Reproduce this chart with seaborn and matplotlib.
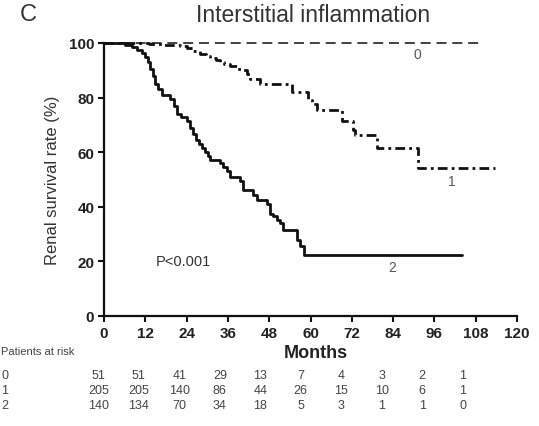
import numpy as np
import pandas as pd
import matplotlib
matplotlib.use("Agg")
import matplotlib.pyplot as plt
import seaborn as sns

# Kaplan-Meier step curves (months, survival %)
months_0 = [0, 109]
surv_0 = [100, 100]

months_1 = [0, 13, 17, 22, 24, 26, 27.9, 29.5, 30.8, 32.5, 33.7, 35, 36.5, 38.7, 40.4,
            41.6, 42.4, 45.3, 54.7, 59.3, 60.5, 61.9, 69.2, 72.4, 73, 79.4, 91.3, 113.7]
surv_1 = [100, 99.6, 99.3, 99, 98.2, 97, 96, 95.2, 94.6, 93.8, 93, 92.3, 91.5, 90.5, 90,
          88.5, 86.7, 85, 82, 79, 77.5, 75.6, 71.6, 68.3, 66.4, 61.6, 54.2, 54.2]

months_2 = [0, 6, 8, 9.5, 11, 12, 12.8, 13.4, 14.1, 14.8, 15.8, 16.9, 19.2, 20.2, 21.2,
            22.5, 24.1, 25, 25.9, 26.8, 27.7, 28.6, 29.4, 30.2, 30.8, 33.7, 34.6, 35.6,
            36.6, 39.5, 40.4, 43.3, 44.5, 47.4, 48.3, 49.2, 50.2, 51.2, 52, 56, 57, 58, 104]
surv_2 = [100, 99.3, 98.5, 97.5, 96.5, 95, 93, 90.5, 88, 85, 83, 81, 79.5, 77, 74,
          73, 71.5, 69, 66.5, 64.5, 63, 61.5, 60, 58.5, 57, 56, 54.5, 53,
          51, 49.5, 46, 44.5, 42.5, 41, 37.5, 36.5, 35, 34, 31.5, 28, 25.5, 22.3, 22.3]

groups = ["0", "1", "2"]
risk_months = [0, 12, 24, 36, 48, 60, 72, 84, 96, 108]
risk_0 = [51, 51, 41, 29, 13, 7, 4, 3, 2, 1]
risk_1 = [205, 205, 140, 86, 44, 26, 15, 10, 6, 1]
risk_2 = [140, 134, 70, 34, 18, 5, 3, 1, 1, 0]

sns.set_style("ticks")
plt.rcParams['font.family'] = ['Liberation Sans', 'DejaVu Sans']

W, H = 539, 427
fig = plt.figure(figsize=(W / 100, H / 100), dpi=100)
ax = fig.add_axes([104 / W, 1 - 317 / H, (517 - 104) / W, (317 - 44) / H])

df0 = pd.DataFrame({"Months": months_0, "Survival": surv_0})
df1 = pd.DataFrame({"Months": months_1, "Survival": surv_1})
df2 = pd.DataFrame({"Months": months_2, "Survival": surv_2})

sns.lineplot(data=df0, x="Months", y="Survival", ax=ax, color="#222222", lw=1.2,
             drawstyle="steps-post", linestyle=(0, (6, 3.5)), estimator=None, sort=False, clip_on=False)
sns.lineplot(data=df1, x="Months", y="Survival", ax=ax, color="#111111", lw=2.0,
             drawstyle="steps-post", linestyle=(0, (3.5, 1.5, 1, 1.5)), estimator=None, sort=False, clip_on=False)
sns.lineplot(data=df2, x="Months", y="Survival", ax=ax, color="#111111", lw=2.0,
             drawstyle="steps-post", estimator=None, sort=False, clip_on=False)

ax.set_xlim(0, 120)
ax.set_ylim(0, 100)
ax.set_xticks(range(0, 121, 12))
ax.set_yticks(range(0, 101, 20))
sns.despine(ax=ax)
for s in ["left", "bottom"]:
    ax.spines[s].set_linewidth(1.6)
    ax.spines[s].set_color("#111111")
ax.tick_params(axis="both", direction="out", length=4, width=1.5, color="#111111",
               labelsize=11, pad=3)
for lab in ax.get_xticklabels() + ax.get_yticklabels():
    lab.set_fontweight("bold")
    lab.set_color("#222222")

ax.set_xlabel("")
ax.set_ylabel("Renal survival rate (%)", fontsize=12, color="#333333", labelpad=6)

# curve labels and p value
ax.text(91, 96, "0", fontsize=10, color="#555555", ha="center", va="center")
ax.text(101, 49.5, "1", fontsize=10, color="#555555", ha="center", va="center")
ax.text(83.7, 18, "2", fontsize=10, color="#555555", ha="center", va="center")
ax.text(23, 20, "P<0.001", fontsize=10.5, color="#333333", ha="center", va="center")

fig.text(313 / W, 1 - 15 / H, "Interstitial inflammation", fontsize=16.5, color="#333333",
         ha="center", va="center")
fig.text(28 / W, 1 - 15 / H, "C", fontsize=17, color="#333333", ha="center", va="center")
fig.text(316 / W, 1 - 354 / H, "Months", fontsize=13, fontweight="bold", color="#222222",
         ha="center", va="center")

# patients at risk table
fig.text(1 / W, 1 - 352 / H, "Patients at risk", fontsize=8, color="#444444",
         ha="left", va="center")
row_y = [376, 391, 406]
for g, vals, yy in zip(groups, [risk_0, risk_1, risk_2], row_y):
    fig.text(5 / W, 1 - yy / H, g, fontsize=9, color="#444444", ha="center", va="center")
    for m, v in zip(risk_months, vals):
        xp = 104 + (m * 0.98 - 1.6) * 3.44
        fig.text(xp / W, 1 - yy / H, str(v), fontsize=9, color="#444444",
                 ha="center", va="center")

fig.savefig("out.png", dpi=100)
